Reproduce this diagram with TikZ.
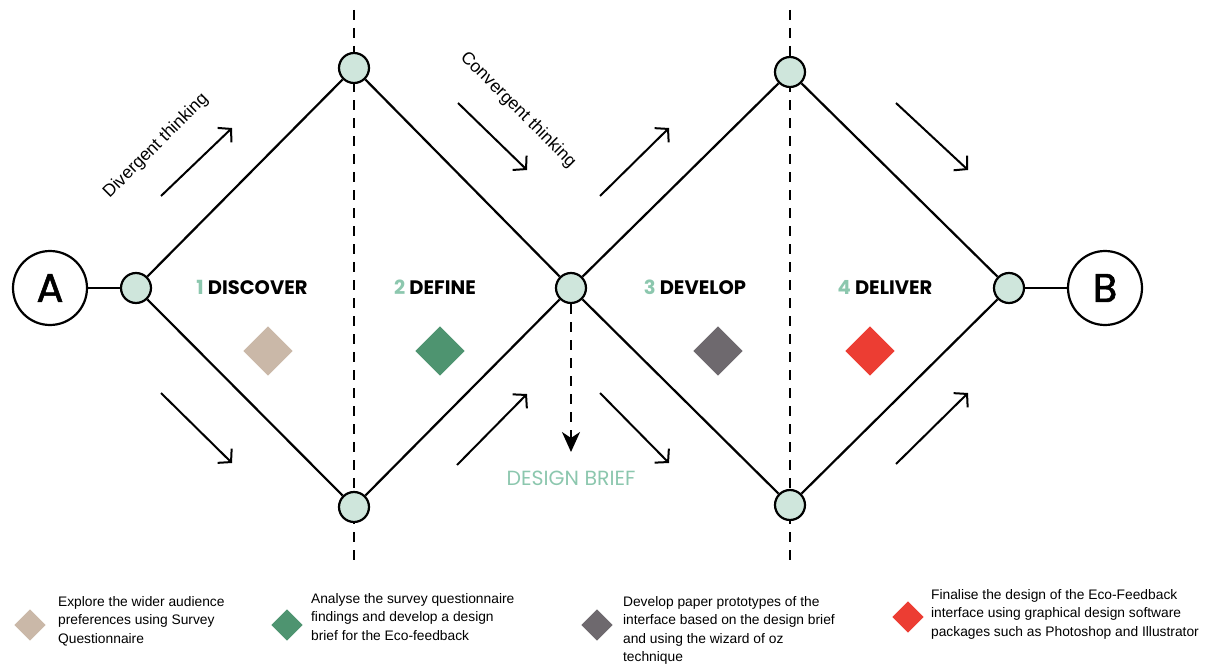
\documentclass[tikz,border=0pt]{standalone}
\usepackage{fontspec}
\setmainfont{Liberation Sans}
\newfontfamily\headfont{Poppins}
\newfontfamily\letterfont[FakeBold=1.5]{Poppins}
\usetikzlibrary{arrows.meta,shapes.geometric}

\definecolor{mint}{HTML}{CFE6DC}
\definecolor{mintdark}{HTML}{8CC7AE}
\definecolor{sand}{HTML}{CAB8A8}
\definecolor{leaf}{HTML}{4E9470}
\definecolor{slate}{HTML}{6E696E}
\definecolor{tomato}{HTML}{EC3D33}

\begin{document}
\begin{tikzpicture}[x=1pt,y=-1pt,
    line width=2.2pt,
    dot/.style={draw, circle, fill=mint, minimum size=30pt, inner sep=0pt},
    endpt/.style={draw, circle, minimum size=74pt, inner sep=0pt, font=\letterfont\fontsize{40}{40}\selectfont},
    phase/.style={font=\headfont\bfseries\fontsize{19.5}{20}\selectfont},
    gem/.style={diamond, minimum size=#1, inner sep=0pt},
    gem/.default=50pt,
    flow/.style={-{Straight Barb[length=9pt,width=20pt]}, line width=2pt},
    note/.style={anchor=north west, align=left, inner sep=0pt, font=\fontsize{13.8}{18.5}\selectfont},
    slant/.style={font=\fontsize{17.5}{17.5}\selectfont}]
    \useasboundingbox (0,0) rectangle (1205,669);

    % dashed phase borders
    \coordinate (cutAt) at (354,10);
    \coordinate (cutAb) at (354,560);
    \coordinate (cutBt) at (790,10);
    \coordinate (cutBb) at (790,560);
    \draw[dash pattern=on 10pt off 8pt] (cutAt) -- (cutAb);
    \draw[dash pattern=on 10pt off 8pt] (cutBt) -- (cutBb);

    % double diamond
    \node[endpt] (A) at (50,288) {A};
    \node[endpt] (B) at (1105,288) {B};
    \node[dot] (start) at (136,288) {};
    \node[dot] (top1) at (354,68) {};
    \node[dot] (bot1) at (354,507) {};
    \node[dot] (mid) at (571,288) {};
    \node[dot] (top2) at (790,72) {};
    \node[dot] (bot2) at (790,505) {};
    \node[dot] (finish) at (1009,288) {};

    \draw (A) -- (start);
    \draw (start) -- (top1) -- (mid) -- (top2) -- (finish);
    \draw (start) -- (bot1) -- (mid) -- (bot2) -- (finish);
    \draw (finish) -- (B);

    % design brief
    \coordinate (brief) at (571,452);
    \draw[dash pattern=on 10pt off 8pt, -{Stealth[length=20pt,width=18pt,inset=6pt]}] (mid) -- (brief);
    \node[font=\headfont\fontsize{20.5}{21}\selectfont, text=mintdark] (briefTxt) at (571,478) {DESIGN BRIEF};

    % phase labels
    \node[phase] (discover) at (252,287) {\textcolor{mintdark}{1} DISCOVER};
    \node[phase] (define) at (435,287) {\textcolor{mintdark}{2} DEFINE};
    \node[phase] (develop) at (695,287) {\textcolor{mintdark}{3} DEVELOP};
    \node[phase] (deliver) at (885,287) {\textcolor{mintdark}{4} DELIVER};

    \node[gem, fill=sand] (g1) at (268,351) {};
    \node[gem, fill=leaf] (g2) at (440,351) {};
    \node[gem, fill=slate] (g3) at (718,351) {};
    \node[gem, fill=tomato] (g4) at (870,351) {};

    % thinking arrows
    \coordinate (d1a) at (161,196); \coordinate (d1b) at (232,128);
    \coordinate (c1a) at (458,103); \coordinate (c1b) at (527,170);
    \coordinate (d2a) at (600,196); \coordinate (d2b) at (669,128);
    \coordinate (c2a) at (896,103); \coordinate (c2b) at (968,170);
    \coordinate (c3a) at (161,393); \coordinate (c3b) at (232,463);
    \coordinate (d3a) at (457,465); \coordinate (d3b) at (527,394);
    \coordinate (c4a) at (600,393); \coordinate (c4b) at (669,463);
    \coordinate (d4a) at (896,464); \coordinate (d4b) at (968,393);
    \foreach \p in {d1,c1,d2,c2,c3,d3,c4,d4}
        \draw[flow] (\p a) -- (\p b);

    \node[slant, rotate=45] (divTxt) at (156,146) {Divergent thinking};
    \node[slant, rotate=-45] (conTxt) at (518,110) {Convergent thinking};

    % legend
    \node[gem=32pt, fill=sand] (k1) at (30,625) {};
    \node[gem=32pt, fill=leaf] (k2) at (287,625) {};
    \node[gem=32pt, fill=slate] (k3) at (597,625) {};
    \node[gem=32pt, fill=tomato] (k4) at (908,617) {};

    \node[note] (n1) at (57,595) {Explore the wider audience\\preferences using Survey\\Questionnaire};
    \node[note] (n2) at (310,592) {Analyse the survey questionnaire\\findings and develop a design\\brief for the Eco-feedback};
    \node[note] (n3) at (622,595) {Develop paper prototypes of the\\interface based on the design brief\\and using the wizard of oz\\technique};
    \node[note] (n4) at (930,588) {Finalise the design of the Eco-Feedback\\interface using graphical design software\\packages such as Photoshop and Illustrator};
\end{tikzpicture}
\end{document}
